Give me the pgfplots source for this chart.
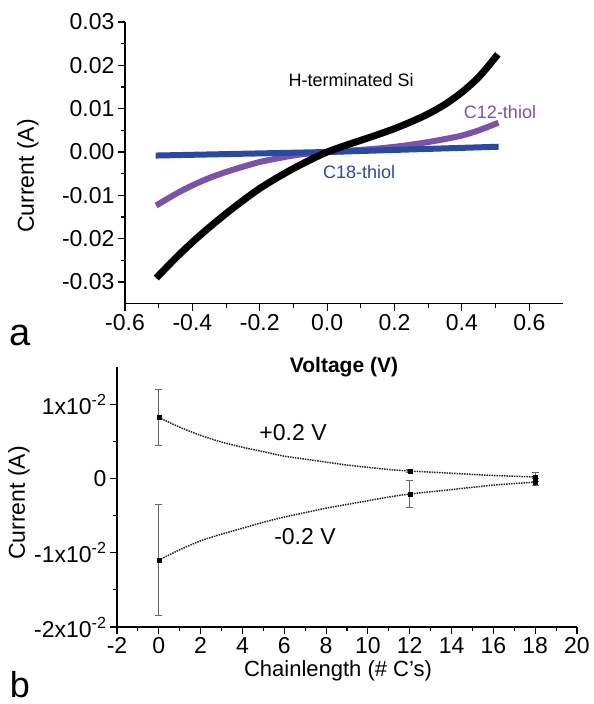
\documentclass[border=0pt]{standalone}
\usepackage{pgfplots}
\pgfplotsset{compat=1.18}
\usepackage{fontspec}
\setmainfont{Liberation Sans}
\definecolor{cpurple}{RGB}{122,82,170}
\definecolor{cblue}{RGB}{42,74,162}

\pgfplotsset{
  panel/.style={
    scale only axis,
    axis lines=left,
    axis line style={-, line width=1.3pt},
    tick align=outside,
    major tick length=7pt,
    minor tick length=4pt,
    every tick/.style={black, line width=1.1pt},
    minor x tick num=1,
    minor y tick num=1,
    scaled ticks=false,
    tick label style={font=\fontsize{23}{26}\selectfont},
    clip=false,
  },
}

\begin{document}
\begin{tikzpicture}
\path[use as bounding box] (0pt,0pt) rectangle (594pt,-704pt);

% panel a: I-V curves
\begin{axis}[panel,
  at={(125pt,-303.7pt)}, anchor=south west,
  width=438pt, height=281.7pt,
  xmin=-0.6, xmax=0.7, ymin=-0.035, ymax=0.03,
  xtick={-0.6,-0.4,-0.2,0,0.2,0.4,0.6},
  xticklabels={-0.6,-0.4,-0.2,0.0,0.2,0.4,0.6},
  ytick={-0.03,-0.02,-0.01,0,0.01,0.02,0.03},
  yticklabels={-0.03,-0.02,-0.01,0.00,0.01,0.02,0.03},
]
\addplot[cpurple, line width=6pt, line cap=rect, smooth] coordinates {
  (-0.5,-0.012) (-0.45,-0.0097) (-0.4,-0.0077) (-0.35,-0.006) (-0.3,-0.0046)
  (-0.25,-0.0034) (-0.2,-0.0023) (-0.15,-0.0015) (-0.1,-0.0008) (-0.05,-0.0003)
  (0,0) (0.05,0.0002) (0.1,0.0005) (0.15,0.0008) (0.2,0.0012) (0.25,0.0017)
  (0.3,0.0023) (0.35,0.003) (0.4,0.0038) (0.45,0.005) (0.5,0.0065)
};
\addplot[cblue, line width=6pt, line cap=rect] coordinates {
  (-0.5,-0.0008) (-0.25,-0.0004) (0,0) (0.25,0.0006) (0.5,0.0012)
};
\addplot[black, line width=7pt, line cap=rect, smooth] coordinates {
  (-0.5,-0.0285) (-0.45,-0.0245) (-0.4,-0.0208) (-0.35,-0.0174) (-0.3,-0.0142)
  (-0.25,-0.0112) (-0.2,-0.0084) (-0.15,-0.006) (-0.1,-0.0038) (-0.05,-0.0018)
  (0,0) (0.05,0.0014) (0.1,0.0027) (0.15,0.004) (0.2,0.0054) (0.25,0.007)
  (0.3,0.0088) (0.35,0.011) (0.4,0.0138) (0.45,0.0173) (0.5,0.0219)
};
\node[font=\fontsize{18}{20}\selectfont] at (axis cs:0.071,0.0166) {H-terminated Si};
\node[font=\fontsize{18}{20}\selectfont, text=cpurple] at (axis cs:0.513,0.0092) {C12-thiol};
\node[font=\fontsize{18}{20}\selectfont, text=cblue] at (axis cs:0.095,-0.0046) {C18-thiol};
\end{axis}

% panel b: current vs chain length
\begin{axis}[panel,
  at={(117pt,-627pt)}, anchor=south west,
  width=460pt, height=260pt,
  xmin=-2, xmax=20, ymin=-0.02, ymax=0.015,
  xtick={-2,0,2,4,6,8,10,12,14,16,18,20},
  xticklabels={-2,0,2,4,6,8,10,12,14,16,18,20},
  ytick={-0.02,-0.01,0,0.01},
  yticklabels={-2x10\textsuperscript{-2},-1x10\textsuperscript{-2},0,1x10\textsuperscript{-2}},
  error bars/error bar style={gray!80!black, line width=1pt},
  error bars/error mark options={rotate=90, mark size=3.5pt, gray!80!black, line width=1pt},
]
% fitted decay curves
\addplot[black!85, line width=1.5pt, dash pattern=on 1.5pt off 1pt, smooth] coordinates {
  (0,0.0082) (1,0.0069) (2,0.0058) (3,0.0049) (4,0.0042) (5,0.0036) (6,0.0030)
  (7,0.0026) (8,0.0022) (9,0.0018) (10,0.0015) (11,0.0012) (12,0.001)
  (14,0.0007) (16,0.0004) (18,0.0002)
};
\addplot[black!85, line width=1.5pt, dash pattern=on 1.5pt off 1pt, smooth] coordinates {
  (0,-0.011) (1,-0.0096) (2,-0.0084) (3,-0.0075) (4,-0.0067) (5,-0.0059)
  (6,-0.0052) (7,-0.0046) (8,-0.0040) (9,-0.0035) (10,-0.0030) (11,-0.0025)
  (12,-0.0021) (14,-0.0015) (16,-0.0009) (18,-0.0005)
};
% measured points
\addplot[only marks, mark=square*, mark size=2pt, black,
  error bars/.cd, y dir=both, y explicit] coordinates {
  (0,0.0082) +- (0,0.0038)
  (12,0.001) +- (0,0.0002)
  (18,0.0002) +- (0,0.0006)
};
\addplot[only marks, mark=square*, mark size=2pt, black,
  error bars/.cd, y dir=both, y explicit] coordinates {
  (0,-0.011) +- (0,0.0075)
  (12,-0.0021) +- (0,0.0018)
  (18,-0.0005) +- (0,0.0005)
};
\node[font=\fontsize{23}{26}\selectfont] at (axis cs:6.42,0.0062) {+0.2 V};
\node[font=\fontsize{23}{26}\selectfont] at (axis cs:6.99,-0.0078) {-0.2 V};
\end{axis}

% axis titles and panel letters
\node[rotate=90, font=\fontsize{23}{26}\selectfont] at (28pt,-176pt) {Current (A)};
\node[font=\bfseries\fontsize{21}{24}\selectfont] at (344pt,-367pt) {Voltage (V)};
\node[font=\fontsize{38}{40}\selectfont] at (20pt,-335pt) {a};
\node[rotate=90, font=\fontsize{23}{26}\selectfont] at (19pt,-503pt) {Current (A)};
\node[font=\fontsize{22}{24}\selectfont] at (338pt,-671pt) {Chainlength (\# C's)};
\node[font=\fontsize{36}{38}\selectfont] at (20pt,-685pt) {b};
\end{tikzpicture}
\end{document}
